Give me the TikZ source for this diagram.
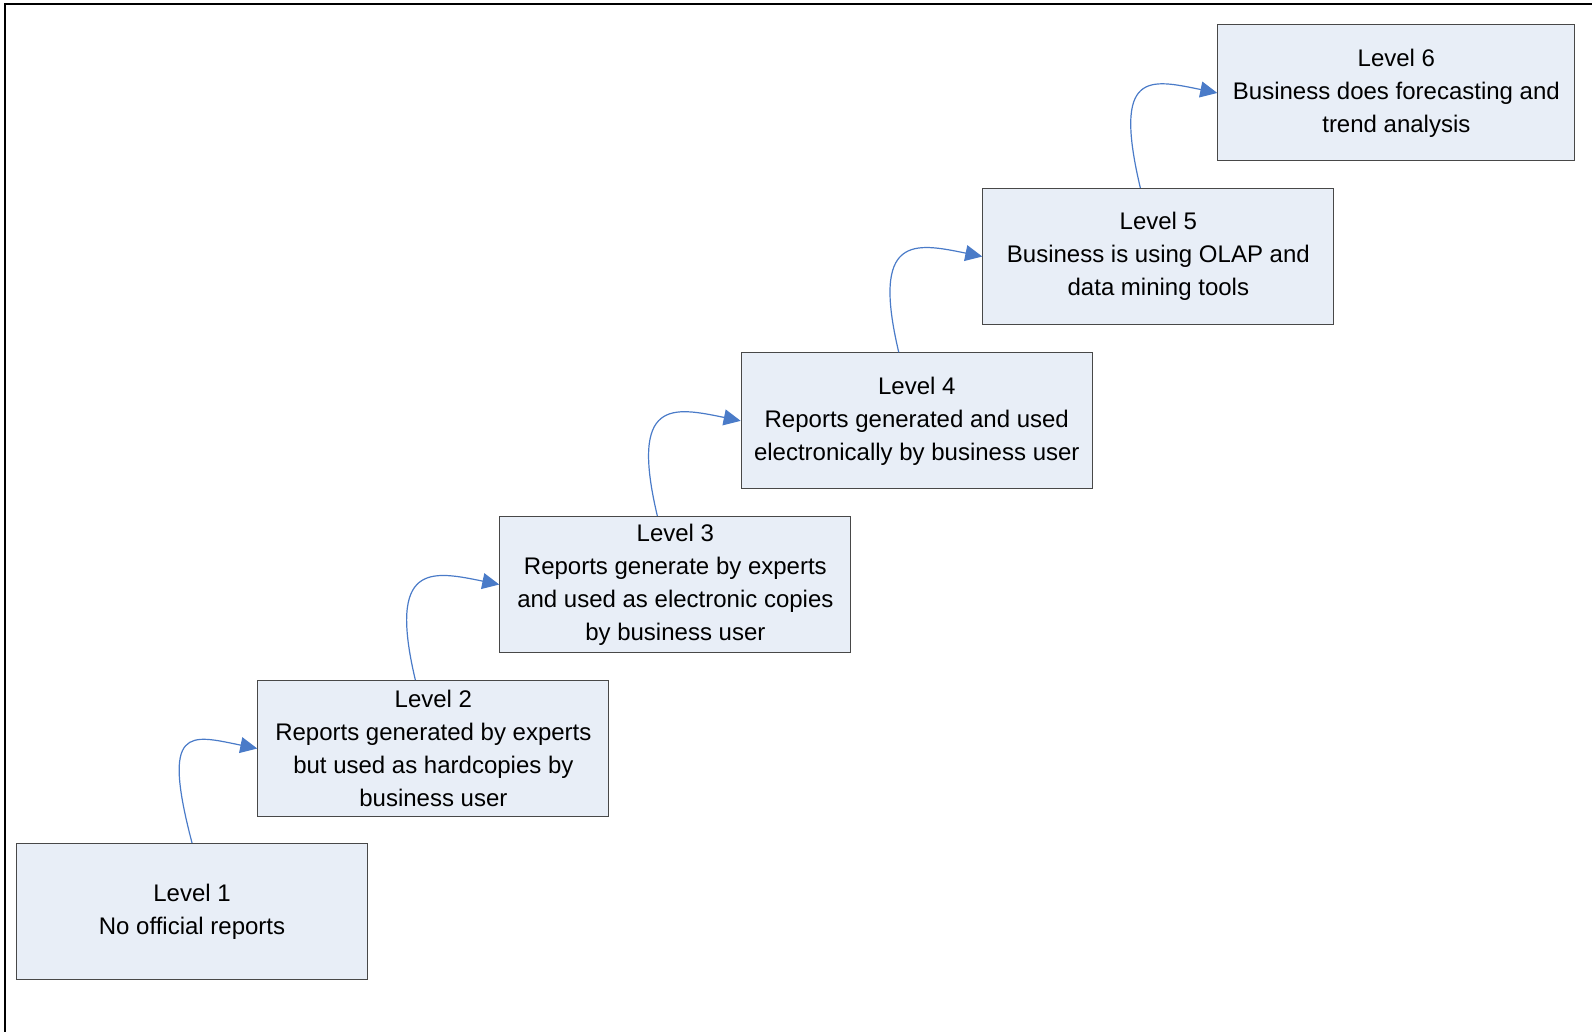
\documentclass[tikz,border=0pt]{standalone}
\usepackage{fontspec}
\setmainfont{Liberation Sans}
\usetikzlibrary{arrows.meta}
\definecolor{boxfill}{RGB}{232,238,247}
\definecolor{boxline}{RGB}{72,72,72}
\definecolor{flowblue}{RGB}{74,123,200}
\begin{document}
\begin{tikzpicture}[x=1pt,y=-1pt,
  level/.style={draw=boxline, fill=boxfill, line width=1.1pt, anchor=north west,
    minimum width=351pt, minimum height=136pt, inner sep=0pt, align=center,
    font=\fontsize{24}{33}\selectfont, text=black},
  flow/.style={draw=flowblue, line width=1.2pt, -{Triangle[length=17pt,width=16pt]}}]
\useasboundingbox (0,0) rectangle (1592,1032);
% page frame (top and left edges)
\draw[line width=2pt] (1592,4) -- (5.3,4) -- (5.3,1032);

% maturity levels
\node[level] (L1) at (16,843) {Level 1\\No official reports};
\node[level] (L2) at (257.3,680) {Level 2\\Reports generated by experts\\but used as hardcopies by\\business user};
\node[level] (L3) at (499.3,516) {Level 3\\Reports generate by experts\\and used as electronic copies\\by business user};
\node[level] (L4) at (740.7,352.3) {Level 4\\Reports generated and used\\electronically by business user};
\node[level] (L5) at (982.3,188) {Level 5\\Business is using OLAP and\\data mining tools};
\node[level, minimum width=357pt] (L6) at (1217.3,24.4) {Level 6\\Business does forecasting and\\trend analysis};

% step-up arrows
\draw[flow] (L1.north) .. controls +(-31,-118) and +(-68,-14) .. (L2.west);
\draw[flow] ([xshift=-18pt]L2.north) .. controls +(-28,-118) and +(-68,-14) .. (L3.west);
\draw[flow] ([xshift=-18pt]L3.north) .. controls +(-28,-118) and +(-68,-14) .. (L4.west);
\draw[flow] ([xshift=-18pt]L4.north) .. controls +(-28,-118) and +(-68,-14) .. (L5.west);
\draw[flow] ([xshift=-18pt]L5.north) .. controls +(-28,-118) and +(-68,-14) .. (L6.west);
\end{tikzpicture}
\end{document}
